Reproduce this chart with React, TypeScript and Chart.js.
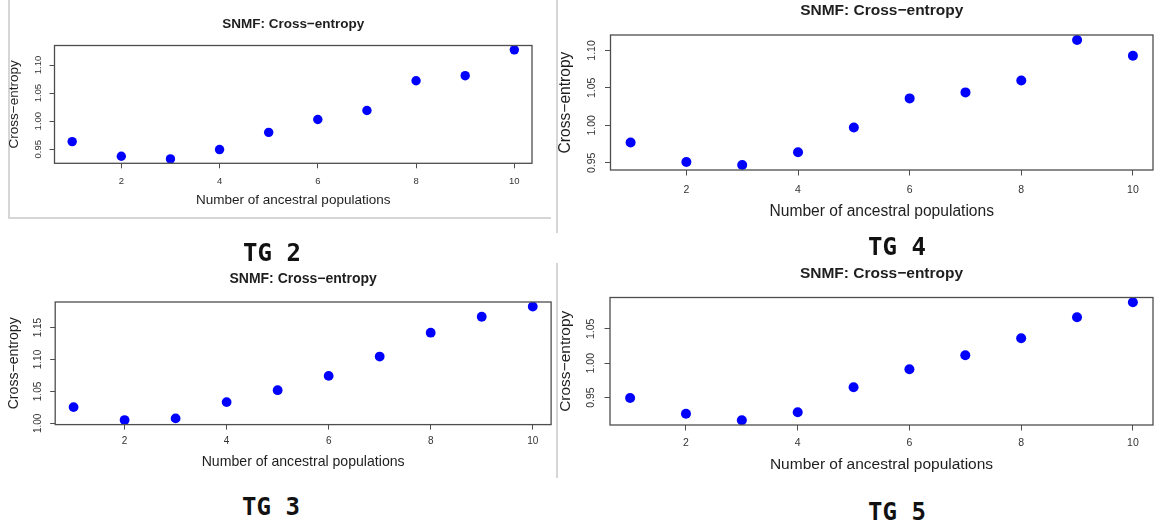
import React, { useEffect, useRef } from "react";
import { Chart, registerables } from "chart.js";

Chart.register(...registerables);

// ---------------- data ----------------
const populations = [1, 2, 3, 4, 5, 6, 7, 8, 9, 10];
const xTickValues = [2, 4, 6, 8, 10];

const tg2Values = [0.9636, 0.9375, 0.9327, 0.9494, 0.98, 1.003, 1.019, 1.072, 1.081, 1.127];
const tg4Values = [0.977, 0.951, 0.947, 0.964, 0.997, 1.036, 1.044, 1.06, 1.114, 1.093];
const tg3Values = [1.0255, 1.0052, 1.0078, 1.0333, 1.052, 1.0744, 1.1047, 1.142, 1.167, 1.183];
const tg5Values = [0.9496, 0.9267, 0.9171, 0.9287, 0.9651, 0.9913, 1.0116, 1.0363, 1.0669, 1.0887];

const tg2YTicks = [0.95, 1.0, 1.05, 1.1];
const tg4YTicks = [0.95, 1.0, 1.05, 1.1];
const tg3YTicks = [1.0, 1.05, 1.1, 1.15];
const tg5YTicks = [0.95, 1.0, 1.05];

const chartTitle = "SNMF: Cross\u2212entropy";
const xAxisLabel = "Number of ancestral populations";
const yAxisLabel = "Cross\u2212entropy";
const panelNames = ["TG 2", "TG 4", "TG 3", "TG 5"];

// ---------------- layout / style ----------------
const FONT = '"Liberation Sans", Arial, Helvetica, sans-serif';
const TEXT = "#1e1e1e";
const AXIS = "#4d4d4d";
const POINT = "#0000ff";

type Layout = {
  left: number;
  top: number;
  width: number;
  height: number;
  area: { l: number; t: number; r: number; b: number };
  fTitle: number;
  fLabel: number;
  fTick: number;
  titleY: number;
  xLabelY: number;
  yLabelX: number;
  yTickX: number;
  xTickPad: number;
  tickLen: number;
  radius: number;
};

const layouts: Layout[] = [
  {
    left: 0, top: 0, width: 556, height: 235,
    area: { l: 54.5, t: 45.5, r: 532, b: 163.3 },
    fTitle: 13.5, fLabel: 13.5, fTick: 9.5,
    titleY: 24, xLabelY: 200, yLabelX: 14.3, yTickX: 38, xTickPad: 7, tickLen: 5, radius: 4.7,
  },
  {
    left: 556, top: 0, width: 602, height: 240,
    area: { l: 54.5, t: 35, r: 601.2, b: 170 },
    fTitle: 15.5, fLabel: 15.6, fTick: 10.5,
    titleY: 11, xLabelY: 212, yLabelX: 10, yTickX: 36.4, xTickPad: 8.2, tickLen: 5.5, radius: 5,
  },
  {
    left: 0, top: 260, width: 556, height: 218,
    area: { l: 55.2, t: 42, r: 551.5, b: 164.6 },
    fTitle: 14, fLabel: 14.1, fTick: 10,
    titleY: 19, xLabelY: 202, yLabelX: 14, yTickX: 38.6, xTickPad: 6.1, tickLen: 5, radius: 4.9,
  },
  {
    left: 556, top: 260, width: 602, height: 218,
    area: { l: 54, t: 37.5, r: 601.2, b: 165 },
    fTitle: 15.5, fLabel: 15.5, fTick: 10.5,
    titleY: 14, xLabelY: 205, yLabelX: 9.6, yTickX: 35, xTickPad: 6.2, tickLen: 5.5, radius: 5,
  },
];

const panelValues = [tg2Values, tg4Values, tg3Values, tg5Values];
const panelYTicks = [tg2YTicks, tg4YTicks, tg3YTicks, tg5YTicks];

function extendRange(arr: number[]): [number, number] {
  const mn = Math.min(...arr);
  const mx = Math.max(...arr);
  const d = (mx - mn) * 0.04;
  return [mn - d, mx + d];
}

function Panel({ index }: { index: number }) {
  const ref = useRef<HTMLCanvasElement | null>(null);
  const L = layouts[index];
  const values = panelValues[index];
  const yTicks = panelYTicks[index];

  useEffect(() => {
    if (!ref.current) return;
    const [xMin, xMax] = extendRange(populations);
    const [yMin, yMax] = extendRange(values);

    const rPlot = {
      id: "rPlot" + index,
      afterDraw(chart: any) {
        const ctx = chart.ctx as CanvasRenderingContext2D;
        const a = chart.chartArea;
        const ys = chart.scales.y;
        ctx.save();
        // box
        ctx.strokeStyle = AXIS;
        ctx.lineWidth = 1.3;
        ctx.strokeRect(a.left, a.top, a.right - a.left, a.bottom - a.top);
        ctx.fillStyle = TEXT;
        // title
        ctx.font = `bold ${L.fTitle}px ${FONT}`;
        ctx.textAlign = "center";
        ctx.textBaseline = "middle";
        ctx.fillText(chartTitle, (a.left + a.right) / 2, L.titleY);
        // x label
        ctx.font = `${L.fLabel}px ${FONT}`;
        ctx.fillText(xAxisLabel, (a.left + a.right) / 2, L.xLabelY);
        // y label
        ctx.save();
        ctx.translate(L.yLabelX, (a.top + a.bottom) / 2);
        ctx.rotate(-Math.PI / 2);
        ctx.fillText(yAxisLabel, 0, 0);
        ctx.restore();
        // y tick labels (parallel to axis, R style)
        ctx.font = `${L.fTick}px ${FONT}`;
        ctx.fillStyle = "#333";
        yTicks.forEach((v) => {
          const py = ys.getPixelForValue(v);
          ctx.save();
          ctx.translate(L.yTickX, py);
          ctx.rotate(-Math.PI / 2);
          ctx.fillText(v.toFixed(2), 0, 0);
          ctx.restore();
        });
        ctx.restore();
      },
    };

    const chart = new Chart(ref.current, {
      type: "scatter",
      data: {
        datasets: [
          {
            data: populations.map((x, i) => ({ x, y: values[i] })),
            backgroundColor: POINT,
            borderColor: POINT,
            borderWidth: 0,
            pointRadius: L.radius,
            pointHoverRadius: L.radius,
            showLine: false,
          },
        ],
      },
      options: {
        responsive: false,
        maintainAspectRatio: false,
        animation: false,
        devicePixelRatio: 1,
        layout: { padding: { left: 0, top: L.area.t, right: L.width - L.area.r, bottom: 0 } },
        plugins: {
          legend: { display: false },
          tooltip: { enabled: false },
          title: { display: false },
        },
        scales: {
          x: {
            type: "linear",
            min: xMin,
            max: xMax,
            afterFit: (s: any) => {
              s.height = L.height - L.area.b;
            },
            afterBuildTicks: (s: any) => {
              s.ticks = xTickValues.map((v) => ({ value: v }));
            },
            grid: {
              display: true,
              drawOnChartArea: false,
              drawTicks: true,
              tickLength: L.tickLen,
              tickColor: AXIS,
              tickWidth: 1,
            },
            border: { display: false },
            ticks: {
              autoSkip: false,
              maxRotation: 0,
              minRotation: 0,
              padding: L.xTickPad,
              color: "#333",
              font: { family: FONT, size: L.fTick },
              callback: (v: any) => String(v),
            },
          },
          y: {
            type: "linear",
            min: yMin,
            max: yMax,
            afterFit: (s: any) => {
              s.width = L.area.l;
            },
            afterBuildTicks: (s: any) => {
              s.ticks = yTicks.map((v) => ({ value: v }));
            },
            grid: {
              display: true,
              drawOnChartArea: false,
              drawTicks: true,
              tickLength: L.tickLen,
              tickColor: AXIS,
              tickWidth: 1,
            },
            border: { display: false },
            ticks: { display: false },
          },
        },
      },
      plugins: [rPlot],
    } as any);
    return () => chart.destroy();
  }, [index]);

  return (
    <canvas
      ref={ref}
      width={L.width}
      height={L.height}
      style={{ position: "absolute", left: L.left, top: L.top, width: L.width, height: L.height }}
    />
  );
}

const labelPos = [
  { x: 272, y: 253 },
  { x: 897, y: 247 },
  { x: 271, y: 507 },
  { x: 897, y: 512 },
];

export default function App() {
  const line = "#d6d6d6";
  return (
    <div
      style={{
        position: "fixed",
        left: 0,
        top: 0,
        width: 1156,
        height: 525,
        overflow: "hidden",
        background: "#ffffff",
      }}
    >
      {/* panel frame lines */}
      <div style={{ position: "absolute", left: 8, top: 0, width: 2, height: 219, background: line }} />
      <div style={{ position: "absolute", left: 8, top: 217, width: 543, height: 2, background: line }} />
      <div style={{ position: "absolute", left: 556, top: 0, width: 2, height: 233, background: line }} />
      <div style={{ position: "absolute", left: 556, top: 263, width: 2, height: 215, background: line }} />
      {[0, 1, 2, 3].map((i) => (
        <Panel key={i} index={i} />
      ))}
      {panelNames.map((n, i) => (
        <div
          key={n}
          style={{
            position: "absolute",
            left: labelPos[i].x - 60,
            top: labelPos[i].y - 14,
            width: 120,
            height: 28,
            lineHeight: "28px",
            textAlign: "center",
            fontFamily: '"DejaVu Sans Mono", monospace',
            fontWeight: "bold",
            fontSize: 24,
            color: "#111",
            whiteSpace: "pre",
          }}
        >
          {n}
        </div>
      ))}
    </div>
  );
}
